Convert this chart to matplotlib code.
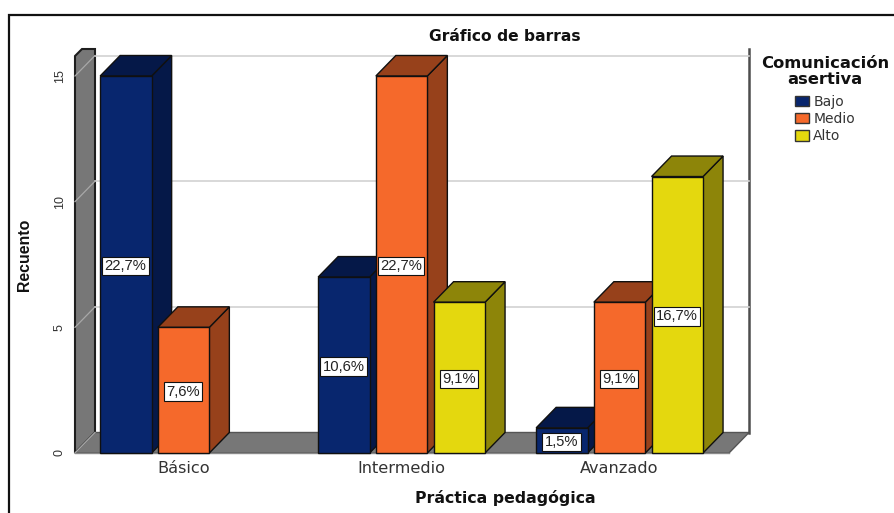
import matplotlib
matplotlib.use("Agg")
import matplotlib.pyplot as plt
from matplotlib.patches import Polygon, Patch
from matplotlib.lines import Line2D

categories = ["Básico", "Intermedio", "Avanzado"]
series_names = ["Bajo", "Medio", "Alto"]
bajo = [15, 7, 1]
medio = [5, 15, 6]
alto = [0, 6, 11]
pct_bajo = ["22,7%", "10,6%", "1,5%"]
pct_medio = ["7,6%", "22,7%", "9,1%"]
pct_alto = ["", "9,1%", "16,7%"]
y_ticks = [0, 5, 10, 15]

front = ["#08266e", "#f5692b", "#e4d80e"]
shade = ["#051848", "#97411b", "#8d8509"]
WALL = "#777777"
FONT = "Liberation Sans"
WIDE = "DejaVu Sans"
plt.rcParams["font.family"] = [FONT, "DejaVu Sans"]

W, H = 894, 513
fig = plt.figure(figsize=(W / 100, H / 100), dpi=100, facecolor="white")
L, R, B, T = 75, 729, 453, 56
ax = fig.add_axes([L / W, 1 - B / H, (R - L) / W, (B - T) / H])
unit_y = 377 / 15
ax.set_xlim(L / 218 - 183.6 / 218, R / 218 - 183.6 / 218)
ax.set_ylim(0, (B - T) / unit_y)
ax.patch.set_visible(False)
for s in ax.spines.values():
    s.set_visible(False)

dx, dy = 20 / 218, 20.5 / unit_y
bw, step = 51.5 / 218, 57.7 / 218
x0, x1 = ax.get_xlim()
y1 = ax.get_ylim()[1]


def poly(pts, fc, ec, lw=1.0, z=1):
    ax.add_patch(Polygon(pts, closed=True, fc=fc, ec=ec, lw=lw, zorder=z,
                         clip_on=False, joinstyle="miter"))


# walls and floor
poly([(x0, 0), (x0 + dx, dy), (x0 + dx, y1 + 7 / unit_y),
      (x0 + 7 / 218, y1 + 7 / unit_y), (x0, y1)], WALL, "#1e1e1e", 1.5, 1)
poly([(x0, 0), (x0 + dx, dy), (x1 + dx, dy), (x1, 0)], WALL, "#555555", 1.0, 1)
ax.plot([x1 + dx, x1 + dx], [dy, y1 + 7 / unit_y], color="#4d4d4d", lw=1.8,
        zorder=1, clip_on=False)
ax.plot([x0, x1], [0, 0], color="#8a8a8a", lw=1.0, zorder=2, clip_on=False)
for v in y_ticks[1:]:
    ax.plot([x0 + dx, x1 + dx], [v + dy, v + dy], color="#d2d2d2", lw=1.2,
            zorder=1.5, clip_on=False)
for v in y_ticks:
    ax.plot([x0, x0 + dx], [v, v + dy], color="#a8a8a8", lw=0.9, zorder=1.5,
            clip_on=False)

# bars
z = 3
for c in range(len(categories)):
    for s, (vals, pcts) in enumerate(zip([bajo, medio, alto],
                                         [pct_bajo, pct_medio, pct_alto])):
        v = vals[c]
        if v == 0:
            continue
        a = c + (s - 1) * step - bw / 2
        b = a + bw
        ec = "#101010"
        poly([(b, 0), (b + dx, dy), (b + dx, v + dy), (b, v)], shade[s], ec, 1.0, z)
        poly([(a, v), (a + dx, v + dy), (b + dx, v + dy), (b, v)], shade[s], ec, 1.0, z)
        ax.bar(a + bw / 2, v, width=bw, color=front[s], edgecolor=ec, lw=1.0,
               zorder=z + 0.1, clip_on=False)
        ax.annotate(pcts[c], (a + bw / 2, v / 2), xytext=(-0.3, -1.1),
                    textcoords="offset points", ha="center", va="center",
                    fontsize=10.6, color="#222222", zorder=50,
                    bbox=dict(boxstyle="square,pad=0.16", fc="white", ec="#111111", lw=0.8))
        z += 1

# axes text
ax.set_xticks(range(3), categories, fontsize=11.6, color="#333333", family=WIDE)
ax.set_yticks(y_ticks, [str(v) for v in y_ticks], rotation=90, va="center",
              fontsize=9, color="#333333")
ax.tick_params(axis="both", length=0)
ax.tick_params(axis="x", pad=5.5)
ax.tick_params(axis="y", pad=6.5)

fig.text(505 / W, 1 - 36.5 / H, "Gráfico de barras", ha="center", va="center",
         fontsize=11.2, fontweight="bold", color="#111111", family=WIDE)
fig.text(505 / W, 1 - 497.5 / H, "Práctica pedagógica", ha="center", va="center",
         fontsize=11.35, fontweight="bold", color="#111111", family=WIDE)
fig.text(25 / W, 1 - 254.5 / H, "Recuento", rotation=90, ha="center", va="center",
         fontsize=11.4, fontweight="bold", color="#111111")

# legend
handles = [Patch(fc=front[i], ec="#333333", lw=1.0, label=series_names[i]) for i in range(3)]
leg = fig.legend(handles=handles, title="Comunicación\nasertiva", frameon=False,
                 loc="upper center", bbox_to_anchor=(825 / W, 1 - 56 / H),
                 borderaxespad=0, borderpad=0, fontsize=10,
                 handlelength=1.0, handleheight=0.8, handletextpad=0.3,
                 labelspacing=0.22, alignment="center",
                 title_fontproperties=dict(family=WIDE, weight="bold", size=11.8))
leg.get_title().set_linespacing(1.05)
leg.get_title().set_multialignment("center")
leg.get_title().set_color("#111111")
leg._legend_box.sep = 6
for t in leg.get_texts():
    t.set_color("#333333")
    t.set_family(WIDE)

# outer frame
fig.add_artist(Line2D([9 / W, 9 / W, 1], [0, 1 - 15 / H, 1 - 15 / H], color="#111111",
                      lw=1.6, transform=fig.transFigure, solid_joinstyle="miter"))

fig.savefig("out.png", dpi=100)
